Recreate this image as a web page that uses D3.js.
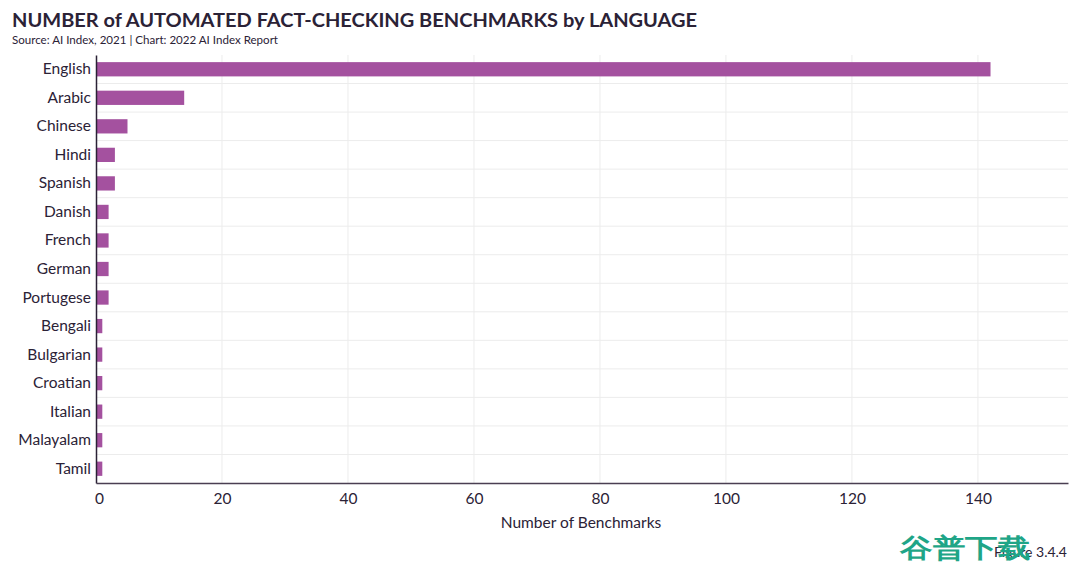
<!DOCTYPE html>
<html><head><meta charset="utf-8">
<script src="https://cdn.jsdelivr.net/npm/d3@7"></script>
<style>
body{margin:0;background:#fff;}
text{font-family:"Lato","Open Sans",sans-serif;}
</style></head>
<body><svg id="c" width="1080" height="568"></svg>
<script>
const languages = ["English","Arabic","Chinese","Hindi","Spanish","Danish","French","German","Portugese","Bengali","Bulgarian","Croatian","Italian","Malayalam","Tamil"];
const benchmarks = [142,14,5,3,3,2,2,2,2,1,1,1,1,1,1];
const xTicks = [0,20,40,60,80,100,120,140];

const svg = d3.select("#c");
const m = {l:96, r:1068, t:55, b:483};
const x = d3.scaleLinear().domain([0,154.3]).range([m.l, m.r]);
const y = d3.scaleBand().domain(languages).range([m.t, m.b]).paddingInner(0.5).paddingOuter(0.25);
const txt = "#2b2236";

// title
svg.append("text").attr("x",12).attr("y",27).attr("font-size",19.5).attr("font-weight",700)
  .attr("fill",txt).attr("textLength",685).attr("lengthAdjust","spacingAndGlyphs")
  .text("NUMBER of AUTOMATED FACT-CHECKING BENCHMARKS by LANGUAGE");
svg.append("text").attr("x",12).attr("y",44).attr("font-size",11).attr("fill",txt)
  .attr("textLength",266).attr("lengthAdjust","spacingAndGlyphs")
  .text("Source: AI Index, 2021 | Chart: 2022 AI Index Report");

// grid vertical
svg.append("g").selectAll("line").data(xTicks.slice(1)).join("line")
  .attr("x1",d=>x(d)).attr("x2",d=>x(d)).attr("y1",m.t).attr("y2",m.b)
  .attr("stroke","#ececec").attr("stroke-width",1);
// grid horizontal (between bands)
const step = y.step();
svg.append("g").selectAll("line").data(languages.slice(0,-1)).join("line")
  .attr("x1",m.l).attr("x2",m.r)
  .attr("y1",d=>y(d)+y.bandwidth()/2+step/2).attr("y2",d=>y(d)+y.bandwidth()/2+step/2)
  .attr("stroke","#ececec").attr("stroke-width",1);

// bars
svg.append("g").selectAll("rect").data(languages).join("rect")
  .attr("x",x(0)).attr("y",d=>y(d)).attr("height",y.bandwidth())
  .attr("width",(d,i)=>x(benchmarks[i])-x(0)).attr("fill","#a4519f");

// y axis
const ya = svg.append("g").attr("transform",`translate(${m.l},0)`)
  .call(d3.axisLeft(y).tickSize(0).tickPadding(5));
ya.select(".domain").attr("stroke","#2b2236").attr("stroke-width",1.5);
ya.selectAll("text").attr("font-size",15.5).attr("fill",txt).attr("font-family","Lato, sans-serif");

// x axis
const xa = svg.append("g").attr("transform",`translate(0,${m.b})`)
  .call(d3.axisBottom(x).tickValues(xTicks).tickSize(0).tickPadding(10));
xa.select(".domain").attr("stroke","#4a3f52").attr("stroke-width",1.5);
xa.selectAll("text").attr("font-size",15.5).attr("fill",txt).attr("font-family","Lato, sans-serif");
xa.selectAll(".tick").filter(d=>d===0).select("text").attr("dx",3);

svg.append("text").attr("x",581).attr("y",528).attr("text-anchor","middle")
  .attr("font-size",15.5).attr("fill",txt).text("Number of Benchmarks");

svg.append("text").attr("x",1067).attr("y",557).attr("text-anchor","end")
  .attr("font-size",14).attr("fill",txt).text("Figure 3.4.4");

// watermark
svg.append("text").attr("x",900).attr("y",557).attr("font-size",26).attr("font-weight",900)
  .attr("font-family","Noto Sans CJK SC").attr("fill","#1fa587")
  .attr("textLength",130).attr("lengthAdjust","spacingAndGlyphs").text("谷普下载");
</script></body></html>
